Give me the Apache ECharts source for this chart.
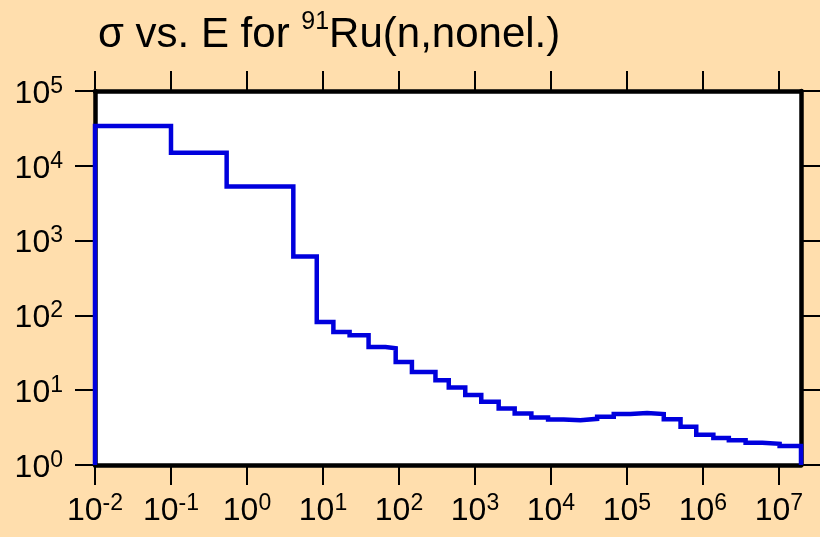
<!DOCTYPE html>
<html>
<head>
<meta charset="utf-8">
<script src="https://cdn.jsdelivr.net/npm/echarts@6/dist/echarts.min.js"></script>
<style>
  html, body { margin: 0; padding: 0; background: #FFDEAD; }
  #chart { width: 820px; height: 537px; }
</style>
</head>
<body>
<div id="chart"></div>
<script>
// Group boundaries (eV) of the histogram, one more than the number of values
const energyEdges = [
  0.01, 0.1, 0.54, 4.07, 8.28, 13.7, 22.4, 39.8, 66.4, 90.5,
  148, 302, 452, 745, 1210, 2050, 3330, 5520, 9160, 14700,
  24400, 40500, 67000, 111000, 184000, 305000, 507000, 816000,
  1.37e6, 2.19e6, 3.64e6, 6.04e6, 1.02e7, 1.95e7
];
// Group-averaged nonelastic cross section (b), one per group
const crossSection = [
  34000, 15000, 5300, 612, 81.4, 59.9, 54.1, 37.8, 36.3,
  23.8, 17.5, 13.6, 10.9, 8.6, 7.0, 5.7, 4.89, 4.33, 4.07,
  3.98, 4.14, 4.41, 4.79, 4.94, 4.79, 4.1, 3.24, 2.54, 2.29,
  2.15, 1.98, 1.92, 1.79
];
// Decade tick positions
const xTickValues = [1e-2, 1e-1, 1e0, 1e1, 1e2, 1e3, 1e4, 1e5, 1e6, 1e7];
const yTickValues = [1e0, 1e1, 1e2, 1e3, 1e4, 1e5];

const xMin = 0.01, xMax = 1.95e7;
const yMin = 1, yMax = 1e5;

// Histogram outline: rise from the floor, one step per group, drop back at the end
const outline = [[energyEdges[0], yMin]];
crossSection.forEach((v, i) => outline.push([energyEdges[i], v]));
outline.push([energyEdges[energyEdges.length - 1], crossSection[crossSection.length - 1]]);
outline.push([energyEdges[energyEdges.length - 1], yMin]);

const FONT = 'Liberation Sans, Arial, Helvetica, sans-serif';

function powerLabel(v) {
  const e = Math.round(Math.log10(v));
  return '{b|10}{s|' + e + '}';
}
const labelRich = {
  b: { fontFamily: FONT, fontSize: 32, lineHeight: 32, color: '#000', padding: [6, 0, 0, 0] },
  s: { fontFamily: FONT, fontSize: 23, lineHeight: 23, color: '#000', verticalAlign: 'top' }
};

const frameLine = { show: true, lineStyle: { color: '#000', width: 4.5 } };
const tickStyle = { show: true, inside: false, length: 20, lineStyle: { color: '#000', width: 2 } };

const chart = echarts.init(document.getElementById('chart'), null, { renderer: 'canvas' });
chart.setOption({
  backgroundColor: '#FFDEAD',
  animation: false,
  title: {
    text: '{a|σ vs. E for }{s|91}{a|Ru(n,nonel.)}',
    left: 98,
    top: 10,
    padding: 0,
    textStyle: {
      fontWeight: 'normal',
      rich: {
        a: { fontFamily: FONT, fontSize: 42, lineHeight: 42, fontWeight: 'normal', color: '#000', padding: [8, 0, 0, 0] },
        s: { fontFamily: FONT, fontSize: 25, lineHeight: 25, fontWeight: 'normal', color: '#000', verticalAlign: 'top' }
      }
    }
  },
  grid: {
    left: 95, right: 19, top: 91, bottom: 72,
    containLabel: false,
    outerBoundsMode: 'none',
    show: true,
    backgroundColor: '#fff',
    borderWidth: 0
  },
  xAxis: [
    {
      type: 'log', logBase: 10, min: xMin, max: xMax, position: 'bottom',
      axisLine: frameLine,
      axisTick: Object.assign({ customValues: xTickValues }, tickStyle),
      axisLabel: {
        customValues: xTickValues, margin: 27, formatter: powerLabel, rich: labelRich
      },
      splitLine: { show: false }, minorTick: { show: false }
    },
    {
      type: 'log', logBase: 10, min: xMin, max: xMax, position: 'top',
      axisLine: frameLine,
      axisTick: Object.assign({ customValues: xTickValues }, tickStyle),
      axisLabel: { show: false },
      splitLine: { show: false }
    }
  ],
  yAxis: [
    {
      type: 'log', logBase: 10, min: yMin, max: yMax, position: 'left',
      axisLine: frameLine,
      axisTick: Object.assign({ customValues: yTickValues }, tickStyle),
      axisLabel: {
        customValues: yTickValues, margin: 32, formatter: powerLabel, rich: labelRich
      },
      splitLine: { show: false }
    },
    {
      type: 'log', logBase: 10, min: yMin, max: yMax, position: 'right',
      axisLine: frameLine,
      axisTick: Object.assign({ customValues: yTickValues }, tickStyle),
      axisLabel: { show: false },
      splitLine: { show: false }
    }
  ],
  series: [{
    type: 'line',
    xAxisIndex: 0,
    yAxisIndex: 0,
    data: outline,
    step: 'end',
    showSymbol: false,
    clip: true,
    lineStyle: { color: '#0000DD', width: 4.5, join: 'miter' },
    z: 5
  }]
});
</script>
</body>
</html>
